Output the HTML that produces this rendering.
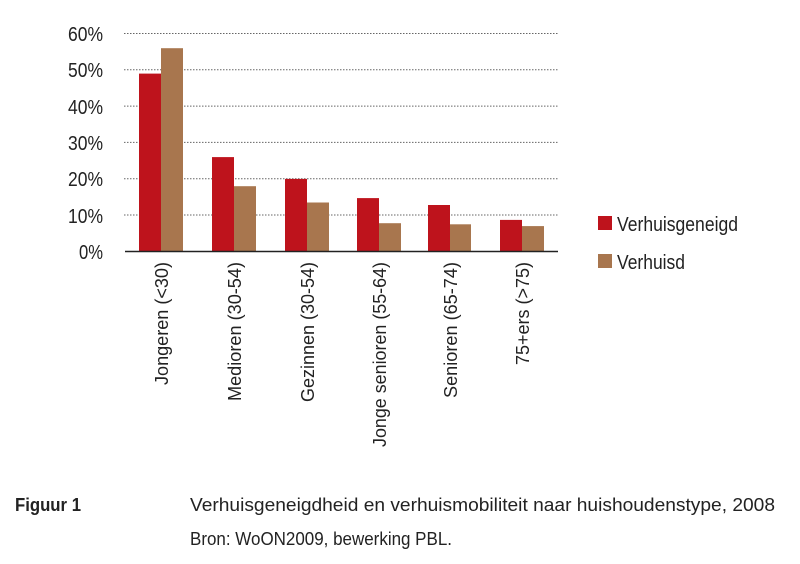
<!DOCTYPE html>
<html><head><meta charset="utf-8"><style>
html,body{margin:0;padding:0;background:#fff;}
svg text{font-family:"Liberation Sans Narrow","Liberation Sans",sans-serif;fill:#222;}
</style></head><body>
<svg width="800" height="559" xmlns="http://www.w3.org/2000/svg">
<g stroke="#666" stroke-width="1" stroke-dasharray="1.5,1.5">
<line x1="124" x2="558" y1="33.5" y2="33.5"/>
<line x1="124" x2="558" y1="69.8" y2="69.8"/>
<line x1="124" x2="558" y1="106.1" y2="106.1"/>
<line x1="124" x2="558" y1="142.4" y2="142.4"/>
<line x1="124" x2="558" y1="178.7" y2="178.7"/>
<line x1="124" x2="558" y1="215" y2="215"/>
</g>
<g font-size="20" text-anchor="end" lengthAdjust="spacingAndGlyphs">
<text x="103" y="41" textLength="35" lengthAdjust="spacingAndGlyphs">60%</text>
<text x="103" y="77" textLength="35" lengthAdjust="spacingAndGlyphs">50%</text>
<text x="103" y="114" textLength="35" lengthAdjust="spacingAndGlyphs">40%</text>
<text x="103" y="150" textLength="35" lengthAdjust="spacingAndGlyphs">30%</text>
<text x="103" y="186" textLength="35" lengthAdjust="spacingAndGlyphs">20%</text>
<text x="103" y="223" textLength="35" lengthAdjust="spacingAndGlyphs">10%</text>
<text x="103" y="259" textLength="24" lengthAdjust="spacingAndGlyphs">0%</text>
</g>
<g fill="#be131c">
<rect x="139" y="73.6" width="22" height="177.9"/>
<rect x="212" y="157.1" width="22" height="94.4"/>
<rect x="285" y="178.9" width="22" height="72.6"/>
<rect x="357" y="198.1" width="22" height="53.4"/>
<rect x="428" y="205" width="22" height="46.5"/>
<rect x="500" y="219.9" width="22" height="31.6"/>
</g>
<g fill="#a8764e">
<rect x="161" y="48.2" width="22" height="203.3"/>
<rect x="234" y="186.2" width="22" height="65.3"/>
<rect x="307" y="202.5" width="22" height="49"/>
<rect x="379" y="223.2" width="22" height="28.3"/>
<rect x="450" y="224.3" width="21" height="27.2"/>
<rect x="522" y="226.1" width="22" height="25.4"/>
</g>
<line x1="125" x2="558" y1="251.5" y2="251.5" stroke="#222" stroke-width="1.5"/>
<g font-size="18" text-anchor="end">
<text transform="translate(168,262) rotate(-90)" textLength="123" lengthAdjust="spacingAndGlyphs">Jongeren (&lt;30)</text>
<text transform="translate(241,262) rotate(-90)" textLength="139" lengthAdjust="spacingAndGlyphs">Medioren (30-54)</text>
<text transform="translate(314,262) rotate(-90)" textLength="140" lengthAdjust="spacingAndGlyphs">Gezinnen (30-54)</text>
<text transform="translate(386,262) rotate(-90)" textLength="185" lengthAdjust="spacingAndGlyphs">Jonge senioren (55-64)</text>
<text transform="translate(457,262) rotate(-90)" textLength="136" lengthAdjust="spacingAndGlyphs">Senioren (65-74)</text>
<text transform="translate(529,262) rotate(-90)" textLength="103" lengthAdjust="spacingAndGlyphs">75+ers (&gt;75)</text>
</g>
<rect x="598" y="216" width="14" height="14" fill="#be131c"/>
<rect x="598" y="254" width="14" height="14" fill="#a8764e"/>
<text x="617" y="231" font-size="20" textLength="121" lengthAdjust="spacingAndGlyphs">Verhuisgeneigd</text>
<text x="617" y="269" font-size="20" textLength="68" lengthAdjust="spacingAndGlyphs">Verhuisd</text>
<text x="15" y="511" font-size="18" font-weight="bold" textLength="66" lengthAdjust="spacingAndGlyphs">Figuur 1</text>
<text x="190" y="511" font-size="18" textLength="585" lengthAdjust="spacingAndGlyphs">Verhuisgeneigdheid en verhuismobiliteit naar huishoudenstype, 2008</text>
<text x="190" y="545" font-size="18" textLength="262" lengthAdjust="spacingAndGlyphs">Bron: WoON2009, bewerking PBL.</text>
</svg>
</body></html>
